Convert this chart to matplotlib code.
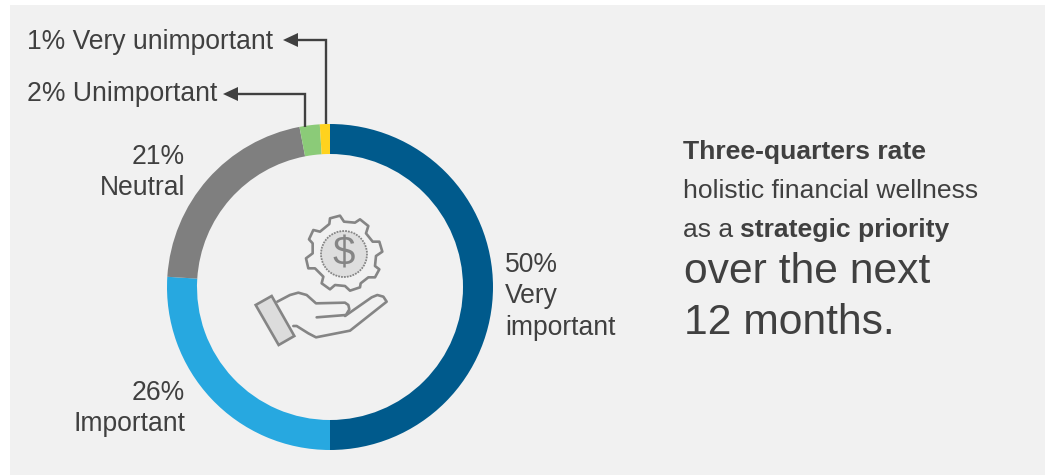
import matplotlib
matplotlib.use("Agg")
import matplotlib.pyplot as plt
from matplotlib.patches import Rectangle, Polygon, Circle

plt.rcParams['font.family'] = ['Liberation Sans', 'DejaVu Sans']

WIDTH, HEIGHT = 1045, 475
shares = [50, 26, 21, 2, 1]
categories = ["Very\nimportant", "Important", "Neutral", "Unimportant", "Very unimportant"]
slice_colors = ["#005A8C", "#27A8E0", "#7F7F7F", "#8BCB78", "#FFD21E"]
INK = "#404040"
ICON = "#858585"


def y_(py):
    """Convert a distance from the top edge into axes height."""
    return HEIGHT - py


fig = plt.figure(figsize=(WIDTH / 100, HEIGHT / 100), dpi=100, facecolor="white")
ax = fig.add_axes([0, 0, 1, 1])
ax.set_xlim(0, WIDTH)
ax.set_ylim(0, HEIGHT)
ax.axis("off")
ax.add_patch(Rectangle((10, 0), WIDTH - 10, HEIGHT - 5, fc="#F1F1F1", ec="none", zorder=0))

# Ring of shares, clockwise from twelve o'clock
cx, cy, radius, ring = 330, y_(287), 163, 30
ax.pie(shares, colors=slice_colors, startangle=90, counterclock=False,
       center=(cx, cy), radius=radius, frame=True,
       wedgeprops=dict(width=ring, linewidth=0))
ax.set_xlim(0, WIDTH)
ax.set_ylim(0, HEIGHT)
ax.set_aspect("auto")
ax.axis("off")

LABEL = 19.1
label_kw = dict(color=INK, fontsize=LABEL, va="center")
ax.text(505, y_(265), f"{shares[0]}%", ha="left", **label_kw)
ax.text(505, y_(296), "Very", ha="left", **label_kw)
ax.text(505, y_(328), "important", ha="left", **label_kw)
ax.text(185, y_(393), f"{shares[1]}%", ha="right", **label_kw)
ax.text(185, y_(424), categories[1], ha="right", **label_kw)
ax.text(185, y_(157), f"{shares[2]}%", ha="right", **label_kw)
ax.text(185, y_(188), categories[2], ha="right", **label_kw)
ax.text(27, y_(94), f"{shares[3]}% {categories[3]}", ha="left", **label_kw)
ax.text(27, y_(42), f"{shares[4]}% {categories[4]}", ha="left", **label_kw)

# Elbow leaders running from the two thin slices to their labels
for xs, ys in [((305, 305, 238), (127, 94, 94)), ((326, 326, 298), (124, 40, 40))]:
    ax.plot(xs, [y_(v) for v in ys], color=INK, lw=1.7, solid_capstyle="butt",
            solid_joinstyle="miter", zorder=3)
    tip = xs[-1] - 15
    ax.add_patch(Polygon([(tip, y_(ys[-1])), (xs[-1], y_(ys[-1] - 7)), (xs[-1], y_(ys[-1] + 7))],
                         fc=INK, ec="none", zorder=3))


def icon_xy(zx, zy):
    """Icon outline points given in a local grid at one third of a pixel."""
    return 240 + zx / 3, y_(200 + zy / 3)


# Gear outline
gear = [(268, 72), (270, 55), (300, 47), (312, 65), (345, 68), (360, 58), (385, 78), (378, 100),
        (398, 125), (418, 125), (427, 155), (408, 168), (405, 198), (418, 208), (405, 232),
        (385, 232), (362, 250), (360, 262), (330, 272), (315, 258), (285, 255), (270, 268),
        (245, 250), (250, 230), (225, 205), (205, 205), (198, 175), (218, 160), (218, 130),
        (207, 118), (220, 90), (240, 95)]
ax.add_patch(Polygon([icon_xy(*p) for p in gear], closed=True, fc="none", ec=ICON, lw=1.9,
                     joinstyle="round", zorder=2))

# Coin with a dollar sign
gx, gy = icon_xy(312, 162)
ax.add_patch(Circle((gx, gy), 23, fc="#DEDEDE", ec=ICON, lw=1.3, ls=(0, (1, 0.6)), zorder=2))
ax.text(gx, gy, "$", ha="center", va="center", fontsize=29, color=ICON, zorder=3)

# Open hand and cuff
cuff = [(47, 315), (95, 288), (163, 408), (116, 435)]
ax.add_patch(Polygon([icon_xy(*p) for p in cuff], closed=True, fc="#DCDCDC", ec=ICON, lw=1.9, zorder=2))
upper = [(112, 305), (150, 285), (175, 278), (200, 285), (228, 310), (315, 308), (325, 315),
         (328, 328), (318, 345), (230, 352)]
lower = [(315, 348), (395, 292), (412, 285), (430, 290), (440, 305), (330, 392), (228, 412),
         (205, 400), (170, 378), (160, 378)]
for path in (upper, lower):
    px, py = zip(*[icon_xy(*p) for p in path])
    ax.plot(px, py, color=ICON, lw=1.9, solid_joinstyle="round", solid_capstyle="round", zorder=2)

# Takeaway text
BODY, LARGE = 19.05, 30.7
ax.text(683, y_(152), "Three-quarters rate", color=INK, fontsize=BODY, weight="bold", ha="left", va="center")
ax.text(683, y_(191), "holistic financial wellness", color=INK, fontsize=BODY, ha="left", va="center")
ax.text(683, y_(230), "as a", color=INK, fontsize=BODY, ha="left", va="center")
ax.text(740, y_(230), "strategic priority", color=INK, fontsize=BODY, weight="bold", ha="left", va="center")
ax.text(684, y_(272), "over the next", color=INK, fontsize=LARGE, ha="left", va="center")
ax.text(684, y_(323), "12 months.", color=INK, fontsize=LARGE, ha="left", va="center")

fig.savefig("out.png", dpi=100, facecolor="white")
